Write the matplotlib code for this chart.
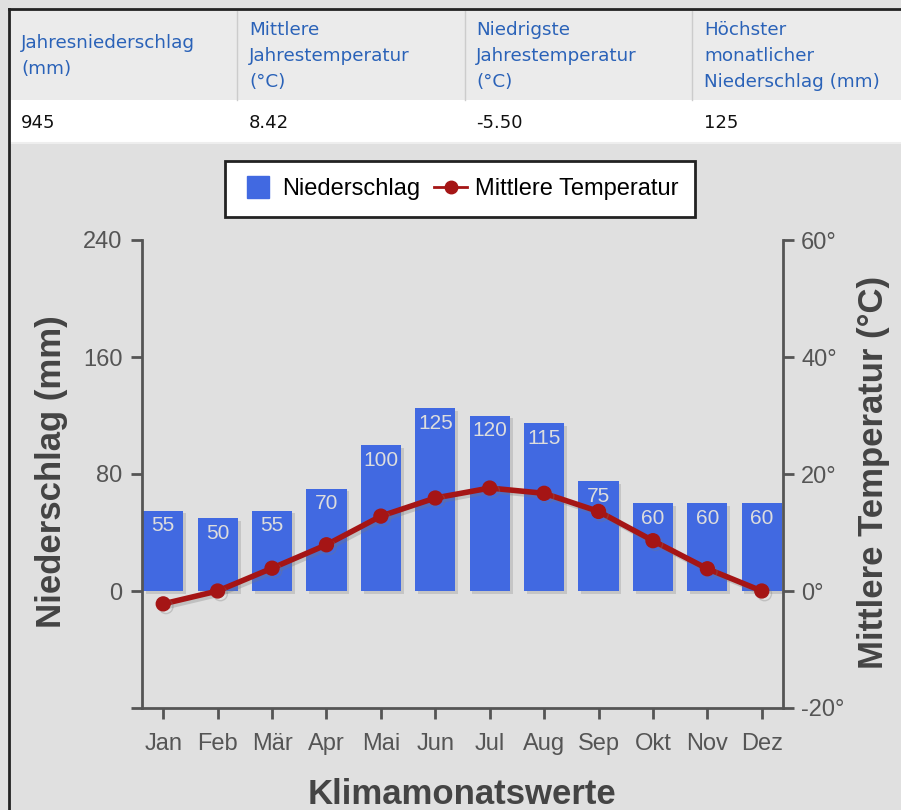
import numpy as np
import matplotlib
matplotlib.use('Agg')
import matplotlib.pyplot as plt
import matplotlib.patheffects as pe
from matplotlib.patches import Rectangle
from matplotlib.lines import Line2D

plt.rcParams['font.family'] = ['Liberation Sans', 'DejaVu Sans']

monate = ['Jan', 'Feb', 'Mär', 'Apr', 'Mai', 'Jun', 'Jul', 'Aug', 'Sep', 'Okt', 'Nov', 'Dez']
niederschlag = [55, 50, 55, 70, 100, 125, 120, 115, 75, 60, 60, 60]
temperatur = [-2.2, 0.0, 3.9, 7.9, 12.8, 15.9, 17.6, 16.7, 13.6, 8.6, 3.8, 0.0]

kopf = ['Jahresniederschlag\n(mm)', 'Mittlere\nJahrestemperatur\n(°C)',
        'Niedrigste\nJahrestemperatur\n(°C)', 'Höchster\nmonatlicher\nNiederschlag (mm)']
werte = ['945', '8.42', '-5.50', '125']

W, H = 901, 810
fig = plt.figure(figsize=(W / 100, H / 100), dpi=100)
fig.patch.set_facecolor('#e0e0e0')


def fx(px):
    return px / W


def fy(py):
    return 1 - py / H


# Kopftabelle
fig.add_artist(Rectangle((fx(10), fy(100)), 1, fy(10) - fy(100), transform=fig.transFigure,
                         facecolor='#ebebeb', edgecolor='none'))
fig.add_artist(Rectangle((fx(10), fy(142)), 1, fy(100) - fy(142), transform=fig.transFigure,
                         facecolor='white', edgecolor='none'))
fig.add_artist(Line2D([fx(10), 1], [fy(143), fy(143)], transform=fig.transFigure,
                      color='#eeeeee', lw=1.5))
for sx in [237, 465, 692]:
    fig.add_artist(Line2D([fx(sx), fx(sx)], [fy(11), fy(100)], transform=fig.transFigure,
                          color='#cccccc', lw=1))
fig.add_artist(Line2D([fx(9), 1], [fy(9), fy(9)], transform=fig.transFigure, color='#222222', lw=2))
fig.add_artist(Line2D([fx(9), fx(9)], [fy(9), 0], transform=fig.transFigure, color='#222222', lw=2))

spalten = [21, 249, 476, 704]
for x0, k, v in zip(spalten, kopf, werte):
    fig.text(fx(x0), fy(56), k, ha='left', va='center', fontsize=13.2, color='#2a62b8',
             family=['DejaVu Sans'], linespacing=1.55)
    fig.text(fx(x0), fy(123), v, ha='left', va='center', fontsize=13, color='#111111',
             family=['DejaVu Sans'])

# Diagramm
ax = fig.add_axes([fx(142), fy(708), fx(783) - fx(142), fy(240) - fy(708)])
ax.set_facecolor('none')
x = np.arange(len(monate))

balken = ax.bar(x, niederschlag, width=0.74, color='#4169e1', zorder=2,
                path_effects=[pe.SimplePatchShadow(offset=(2, -2), shadow_rgbFace='#888888', alpha=0.3),
                              pe.Normal()])
for xi, n in zip(x, niederschlag):
    ax.annotate(str(n), (xi, n), xytext=(0, -11), textcoords='offset points',
                ha='center', va='center', fontsize=15, color='#dddddd', zorder=3)

ax.set_xlim(-0.39, len(monate) - 1 + 0.39)
ax.set_ylim(-80, 240)
ax.set_xticks(x)
ax.set_xticklabels(monate)
ax.set_yticks([-80, 0, 80, 160, 240])
ax.set_yticklabels(['', '0', '80', '160', '240'])

ax2 = ax.twinx()
ax2.set_ylim(-20, 60)
ax2.set_yticks([-20, 0, 20, 40, 60])
ax2.set_yticklabels(['-20°', '0°', '20°', '40°', '60°'])
ax2.plot(x, temperatur, color='#a51515', lw=4, marker='o', ms=10, zorder=4,
         path_effects=[pe.SimpleLineShadow(offset=(2, -2), shadow_color='#777777', alpha=0.3),
                       pe.Normal()])

for a in (ax, ax2):
    a.spines['top'].set_visible(False)
    for s in a.spines.values():
        s.set_color('#555555')
        s.set_linewidth(2)
    a.tick_params(colors='#555555', labelsize=17, length=8, width=2)
ax.spines['right'].set_visible(False)
ax2.spines['left'].set_visible(False)
ax2.spines['bottom'].set_visible(False)
ax.tick_params(axis='x', pad=10)
ax.tick_params(axis='y', pad=6)
ax2.tick_params(axis='y', pad=5)
for lab in ax.get_xticklabels() + ax.get_yticklabels() + ax2.get_yticklabels():
    lab.set_color('#555555')

fig.text(fx(52), fy(472), 'Niederschlag (mm)', rotation=90, ha='center', va='center',
         fontsize=25, fontweight='bold', color='#444444')
fig.text(fx(874), fy(472), 'Mittlere Temperatur (°C)', rotation=90, ha='center', va='center',
         fontsize=25, fontweight='bold', color='#444444')
fig.text(fx(462), fy(794), 'Klimamonatswerte', ha='center', va='center',
         fontsize=25, fontweight='bold', color='#444444')

# Legende
griffe = [Line2D([], [], ls='none', marker='s', ms=16, color='#4169e1'),
          Line2D([], [], color='#a51515', lw=2, marker='o', ms=9)]
leg = fig.legend(griffe, ['Niederschlag', 'Mittlere Temperatur'], loc='center',
                 bbox_to_anchor=(fx(460), fy(189)), ncol=2, fontsize=17, frameon=True,
                 fancybox=False, edgecolor='#222222', facecolor='white', framealpha=1,
                 handlelength=1.4, columnspacing=0.6, borderpad=0.72, handletextpad=0.3)
leg.get_frame().set_linewidth(2)

fig.savefig('out.png', dpi=100)
